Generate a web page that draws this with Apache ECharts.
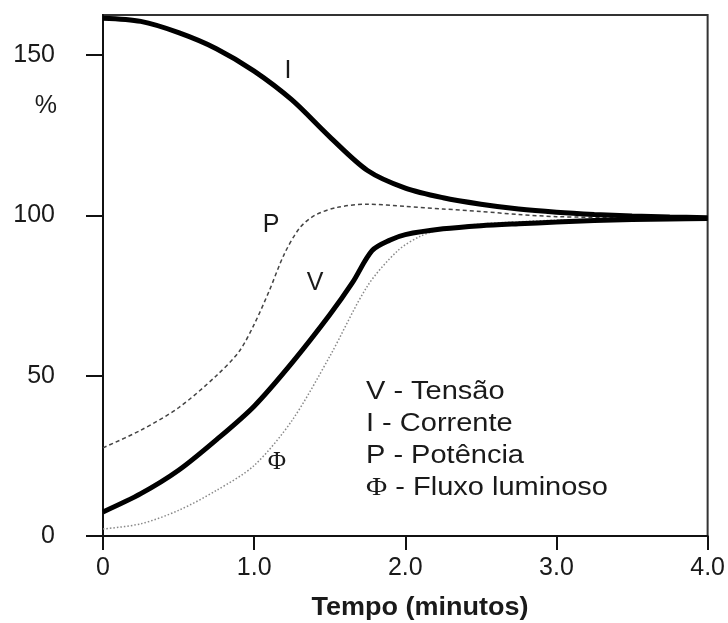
<!DOCTYPE html>
<html>
<head>
<meta charset="utf-8">
<script src="https://cdn.jsdelivr.net/npm/echarts@6/dist/echarts.min.js"></script>
<style>
html,body{margin:0;padding:0;background:#fff;}
#c{width:728px;height:623px;}
</style>
</head>
<body>
<div id="c"></div>
<script>
// Time (minutes) and percent values
var tCurrent = [0, 0.25, 0.5, 0.75, 1.0, 1.25, 1.5, 1.75, 2.0, 2.25, 2.5, 2.75, 3.0, 3.25, 3.5, 3.75, 4.0];
var current  = [161.5, 160.5, 157, 152, 145, 136, 124.5, 114, 108.5, 105.5, 103.5, 102, 101, 100.3, 99.8, 99.5, 99.3];

var tVoltage = [0, 0.25, 0.5, 0.75, 1.0, 1.25, 1.5, 1.65, 1.78, 1.9, 2.0, 2.25, 2.5, 2.75, 3.0, 3.25, 3.5, 3.75, 4.0];
var voltage  = [7.5, 13.2, 20.5, 30, 40.5, 54, 69, 79, 89, 92.3, 94, 95.8, 96.8, 97.4, 97.9, 98.4, 98.7, 98.9, 99];

var tPower = [0, 0.25, 0.5, 0.75, 0.9, 1.0, 1.1, 1.2, 1.3, 1.4, 1.55, 1.75, 2.0, 2.25, 2.5, 2.75, 3.0, 3.5, 4.0];
var power  = [27.5, 33, 40, 50, 57.5, 66, 76.5, 88, 96, 100, 102.5, 103.5, 102.8, 102, 101.2, 100.3, 99.6, 99.3, 99.2];

var tFlux = [0, 0.25, 0.5, 0.75, 1.0, 1.25, 1.5, 1.75, 1.95, 2.1, 2.25, 2.5, 2.75, 3.0, 3.5, 4.0];
var flux  = [2.2, 3.8, 8, 14.2, 22, 36, 56, 78, 89, 93.5, 95.8, 97.3, 98, 98.5, 99, 99.2];

var yTicks = [0, 50, 100, 150];
var xTicks = [0, 1, 2, 3, 4];
var legendLines = ['V - Tensão', 'I - Corrente', 'P - Potência', '{phi|Φ} - Fluxo luminoso'];

function pairs(xs, ys){ return xs.map(function(x,i){ return [x, ys[i]]; }); }

var SANS = '"Liberation Sans", Arial, sans-serif';
var SERIF = '"Liberation Serif", "Times New Roman", serif';
var TXT = '#1a1a1a';

var chart = echarts.init(document.getElementById('c'), null, {renderer:'canvas'});

function txt(x, y, text, opts){
  opts = opts || {};
  return {
    type: 'text', x: x, y: y, scaleX: opts.scaleX || 1, z: 10,
    style: {
      text: text,
      fontFamily: opts.family || SANS,
      fontSize: opts.size || 25,
      fontWeight: opts.weight || 'normal',
      fill: opts.color || TXT,
      align: opts.align || 'left',
      verticalAlign: 'middle',
      textAlign: opts.align || 'left',
      textVerticalAlign: 'middle',
      rich: opts.rich
    }
  };
}

var graphics = [
  txt(57, 106, '%', {align:'right'}),
  txt(288, 71, 'I', {align:'center'}),
  txt(271, 225, 'P', {align:'center'}),
  txt(315, 283, 'V', {align:'center'}),
  txt(277, 462, 'Φ', {align:'center', family: SERIF}),
  txt(420, 608, 'Tempo (minutos)', {align:'center', weight:'bold', scaleX:1.08})
];
var legendY = [392, 424, 456, 488];
legendLines.forEach(function(s, i){
  graphics.push(txt(366, legendY[i], s, {scaleX: 1.16, rich: {phi: {fontFamily: SERIF, fontSize: 25, fill: TXT}}}));
});

var option = {
  animation: false,
  backgroundColor: '#fff',
  grid: {
    left: 103, right: 20, top: 15, bottom: 87,
    show: true, borderColor: '#333', borderWidth: 2, backgroundColor: 'transparent'
  },
  xAxis: {
    type: 'value', min: 0, max: 4, interval: 1,
    axisLine: {show: true, onZero: false, lineStyle: {color: '#111', width: 2}},
    axisTick: {show: true, inside: false, length: 14, lineStyle: {color: '#111', width: 2}},
    axisLabel: {
      margin: 20, color: TXT, fontFamily: SANS, fontSize: 25,
      formatter: function(v){ return v === 0 ? '0' : v.toFixed(1); }
    },
    splitLine: {show: false}
  },
  yAxis: {
    type: 'value', min: 0, max: 162.5,
    axisLine: {show: true, lineStyle: {color: '#111', width: 2}},
    axisTick: {show: true, length: 17, customValues: yTicks, lineStyle: {color: '#111', width: 2}},
    axisLabel: {margin: 48, color: TXT, fontFamily: SANS, fontSize: 25, customValues: yTicks},
    splitLine: {show: false}
  },
  graphic: graphics,
  series: [
    {type:'line', name:'I', data: pairs(tCurrent, current), showSymbol:false, smooth:0.3,
     lineStyle:{color:'#000', width:5}, z:5},
    {type:'line', name:'V', data: pairs(tVoltage, voltage), showSymbol:false, smooth:0.3,
     lineStyle:{color:'#000', width:5}, z:5},
    {type:'line', name:'P', data: pairs(tPower, power), showSymbol:false, smooth:0.3,
     lineStyle:{color:'#444', width:1.5, type:[4,3]}, z:4},
    {type:'line', name:'Φ', data: pairs(tFlux, flux), showSymbol:false, smooth:0.3,
     lineStyle:{color:'#888', width:1.5, type:[1.5,2]}, z:4}
  ]
};
chart.setOption(option);
</script>
</body>
</html>
